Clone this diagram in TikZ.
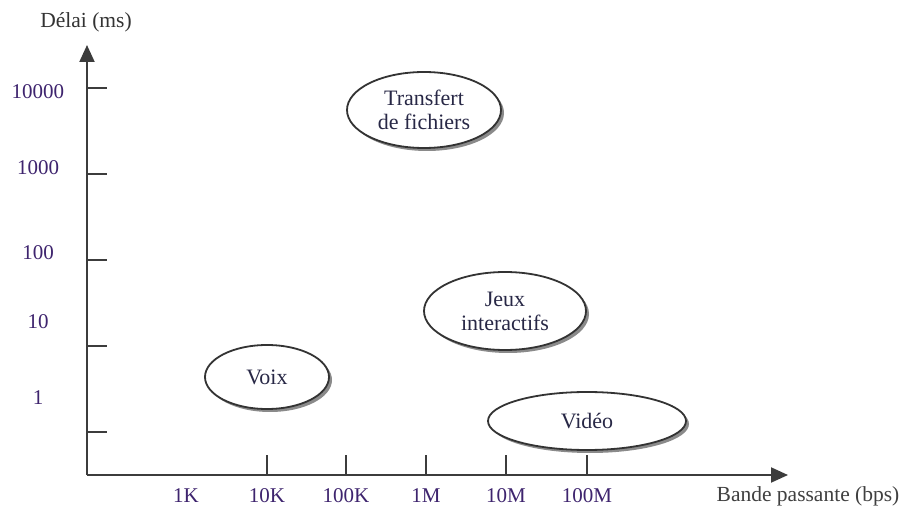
\documentclass[tikz,border=0pt]{standalone}
\usepackage{fontspec}
\setmainfont{Liberation Serif}
\usetikzlibrary{shadows,arrows.meta,shapes.geometric}
\definecolor{lbl}{RGB}{62,36,110}
\definecolor{axis}{RGB}{60,60,60}
\definecolor{txt}{RGB}{40,40,70}
\begin{document}
\begin{tikzpicture}[x=1pt,y=-1pt,
  every node/.style={inner sep=0pt},
  axisline/.style={draw=axis,line width=2pt,-{Triangle[length=17pt,width=15pt]}},
  tick/.style={draw=axis,line width=1.5pt},
  ticklbl/.style={text=lbl,font=\fontsize{21}{24}\selectfont},
  bubble/.style={ellipse,draw=black!80,line width=1.8pt,fill=white,
    drop shadow={shadow xshift=3pt,shadow yshift=-3pt,fill=black!65,opacity=0.7},
    text=txt,align=center,font=\fontsize{22}{24}\selectfont}]
\useasboundingbox (0,0) rectangle (905,510);
\fill[white] (0,0) rectangle (905,510);
% axes
\coordinate (o) at (87,475);
\coordinate (ytop) at (87,45);
\coordinate (xend) at (788,475);
\draw[axisline] (o) -- (ytop);
\draw[axisline] (o) -- (xend);
\node[font=\fontsize{21.5}{24}\selectfont,text=black!80] (ylab) at (86,22) {Délai (ms)};
\node[font=\fontsize{21.5}{24}\selectfont,text=black!75] (xlab) at (808,496) {Bande passante (bps)};
% y ticks
\foreach \y/\l/\ly in {88/10000/92,174/1000/168,260/100/253,346/10/322,432/1/398}{
  \draw[tick] (87,\y) -- (107,\y);
  \node[ticklbl] at (38,\ly) {\l};
}
% x ticks
\node[ticklbl] (k1) at (186,496) {1K};
\foreach \x/\l in {267/10K,346/100K,426/1M,506/10M,587/100M}{
  \draw[tick] (\x,475) -- (\x,455);
  \node[ticklbl] at (\x,496) {\l};
}
% application bubbles
\node[bubble,minimum width=154pt,minimum height=76pt] (transfert) at (424,110) {Transfert\\de fichiers};
\node[bubble,minimum width=162pt,minimum height=78pt] (jeux) at (505,311) {Jeux\\interactifs};
\node[bubble,minimum width=124pt,minimum height=64pt] (voix) at (267,377) {Voix};
\node[bubble,minimum width=198pt,minimum height=58pt] (video) at (587,421) {Vidéo};
\end{tikzpicture}
\end{document}
